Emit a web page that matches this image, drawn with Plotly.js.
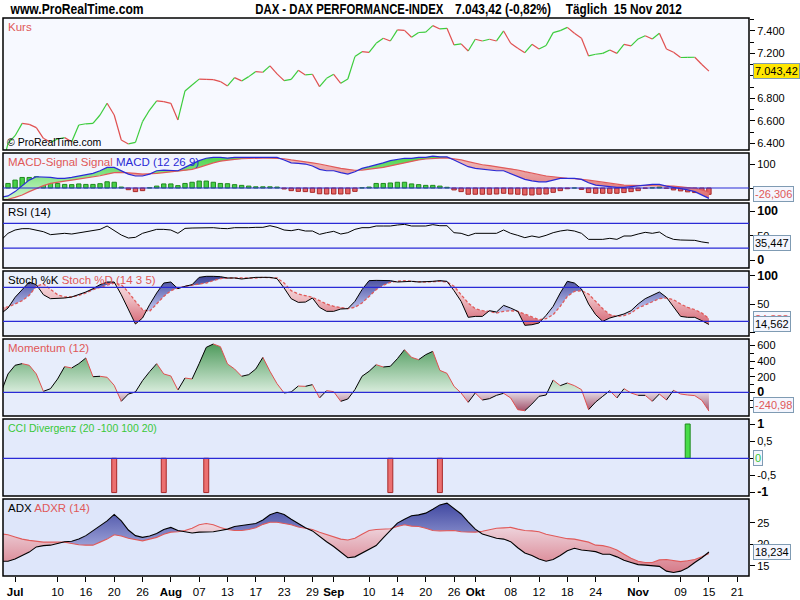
<!DOCTYPE html>
<html><head><meta charset="utf-8">
<script src="https://cdn.plot.ly/plotly-3.0.1.min.js"></script>
<style>html,body{margin:0;padding:0;background:#fff}#chart{width:800px;height:600px}</style>
</head><body><div id="chart"></div>
<script>
// ---------- DATA (first value = 28 Jun 2012, last = 15 Nov 2012) ----------
const kurs = [6150,
6400,6469,6579,6570,6541,6446,6410,6440,6452,6416,
6564,6575,6579,6653,6757,6653,6431,6396,6410,6594,
6697,6778,6772,6757,6609,6867,6920,6972,6970,6968,
6950,6911,6985,6956,6994,7039,7033,7090,7019,6959,
6970,7050,7009,7015,6905,6979,7015,6935,6973,7172,
7216,7210,7290,7335,7311,7409,7405,7344,7386,7390,
7447,7418,7423,7276,7285,7222,7326,7311,7326,7311,
7400,7290,7246,7207,7281,7240,7270,7385,7403,7432,
7379,7335,7178,7193,7201,7231,7201,7281,7267,7329,
7358,7329,7379,7240,7210,7164,7165,7166,7101.6,7043.42];

const macd = [-38.3,
-33,-15,8,33,47,47,44,40,40,44,
50,54,61,72,86,86,72,58,50,50,
58,72,75,75,72,86,100,114,124,128,
128,125,128,128,128,128,128,130,128,117,
105,103,100,92,78,72,72,64,58,68,
82,89,96,105,114,119,124,124,128,128,
133,130,130,117,103,89,82,78,75,72,
72,61,47,36,30,26,26,33,40,40,
40,36,22,12,8,5,3,3,5,8,
12,15,15,8,3,-1,-8,-15,-29,-43.2];

const macdSignal = [-50,
-47,-39,-29,-15,-1,10,19,25,29,33,
37,42,47,51,58,64,65,64,61,58,
58,61,64,67,69,72,78,86,96,105,
112,117,119,122,124,125,125,125,124,122,
117,114,110,105,100,93,86,82,78,74,
75,78,82,86,92,99,105,110,117,121,
124,125,126,122,117,110,103,97,93,89,
85,82,75,68,61,55,50,47,43,40,
39,37,33,29,24,19,15,12,11,11,
11,11,11,10,8,5,3,-1,-8,-16.9];

const macdHist = [10,
19,33,44,44,47,36,24,19,15,14,
17,15,15,18,26,24,4,-7,-15,-11,
1,8,17,17,10,19,24,29,29,24,
19,18,14,11,8,5,5,5,4,-4,
-11,-14,-15,-18,-24,-25,-25,-25,-24,-14,
1,4,19,19,21,24,24,17,14,11,
11,8,3,-8,-15,-26,-26,-26,-26,-25,
-22,-25,-26,-29,-29,-26,-25,-18,-11,-3,
0,-6,-19,-22,-22,-22,-22,-19,-15,-11,
-1,1,4,-1,-8,-12,-16,-19,-22,-26.306];

const rsi = [40.8,
54.9,61.6,64.3,64.3,61.6,58.2,52.2,53.5,54.9,53.5,
56.2,57.5,61.6,62.9,69.7,60.2,51.5,45.4,46.8,54.9,
59.6,62.9,62.9,61.6,54.9,64.9,65.6,66.3,67,66.3,
64.9,64.3,66.3,65.6,66.3,67,67,70.3,67,61.6,
60.2,62.9,59.6,59.6,52.8,56.2,58.9,53.5,56.2,62.9,
66.3,66.3,69.7,69.7,69.7,71.7,73,69.7,69.7,69.7,
72.4,70.3,70.3,56.2,54.9,50.1,54.9,54.9,54.9,54.9,
61.6,54.9,50.8,46.1,49.5,46.8,50.8,56.2,59.6,61.6,
59.6,54.9,42.7,42.7,42.7,44.8,42.7,49.5,49.5,53.5,
56.9,54.9,57.5,48.1,42.7,41.4,41.4,40.7,37.5,35.447];

const stochK = [33.4,
43.5,62.4,75.9,89.4,84.7,67,60,60,61.2,63,
67,71.8,77.6,84.7,89.4,89.4,67,42.4,15.3,25.9,
49.4,70,87.6,89.4,77.6,81.8,84.7,97.6,99.4,99.4,
98.8,96.5,96.5,94.7,96.5,97.6,97.6,97.6,95.3,78.8,
60,53.5,54,61.2,44.7,37.7,37.7,41.8,42.4,55.3,
75.9,91.8,92.3,92.3,91.8,89.4,90.6,90.6,89.4,89.4,
90.6,91.8,90.6,74.1,55.3,27.1,28.8,28.8,38.8,36.5,
48.2,43.5,37.7,13,14.1,17.1,30.6,46.5,70,90.6,
87.6,77,50.6,31.8,20,25.9,30,33,38.8,50.6,
60,65.9,71.8,62.4,46.5,28.8,27.1,27.1,21.2,14.562];

const stochD = [44.3,
45.3,50.6,56.5,65.9,81.8,85.9,75.9,67,63,63,
65.9,70,75.9,80,84.7,87.6,84.7,71.8,55.3,40.6,
37.7,50.6,64,74.1,78.8,81.8,83.5,84.7,87.6,91.8,
95.3,96.5,96.5,95.3,96.5,96.5,97.6,97.6,96.5,87.6,
74.1,68.2,65.9,62.4,56.5,50.6,46.5,44.7,42.4,44.7,
52.4,64,75.9,83.5,88.8,90.6,91.8,90.6,89.4,89.4,
90,90.6,89.4,81.8,67,52.4,42.4,38.8,37.7,34.7,
37.7,38.8,37.7,33,27.1,23,24.7,31.8,46.5,64,
72.9,74.1,68.2,55.3,42.4,31.8,28.8,30,34.7,43.5,
49.4,55.3,60,61.2,58.2,50.6,44.7,40.6,34.7,24.888];

const momentum = [-5,
235,346,367,346,235,12,46,170,329,312,
367,440,200,205,192,89,-116,-22,4,149,
264,367,235,209,29,183,170,367,576,619,
585,363,299,205,226,299,448,269,110,-9,
4,80,76,98,-73,21,8,-116,-86,34,
205,269,354,324,333,431,546,448,418,482,
525,281,243,76,-9,-129,-9,-99,-82,-39,
-13,-73,-223,-236,-150,-52,-35,157,85,119,
85,34,-223,-125,-52,21,-73,46,-9,-39,
-39,-116,-22,-99,25,-22,-35,-43,-103,-240.98];

const cciDates = ['2012-07-20','2012-07-31','2012-08-08','2012-09-13','2012-09-24','2012-11-12'];
const cciValues = [-1,-1,-1,-1,-1,1];
const cciLast = 0;

const adx = [16.1,
16.1,16.6,17.4,18.2,19.4,19.7,19.8,20.2,20.6,20.7,
21.2,22,23.1,24.3,25.4,26.9,25.4,23.3,22,21.6,
21.9,22.5,23.4,23.9,23.2,22.9,22.6,22.8,22.8,22.9,
23.2,23.5,24.1,24.3,24.5,24.8,25.6,26.8,27.4,26.9,
25.8,24.8,23.8,23.1,21.8,20.6,19.5,18.2,16.9,17.1,
18,18.8,19.7,21.5,23.3,24.9,25.8,26.6,26.8,27.2,
28.1,29.1,29.5,28.3,27,25.2,23.5,22.4,21.9,21.4,
21.2,20.6,19.2,18,17.4,16.6,16.1,16.5,17.4,18.5,
19.1,18.7,18.5,18.3,17.7,17.7,17.1,16.3,15.8,15.3,
15.2,15,14.9,13.8,13.5,13.8,14.6,15.8,16.9,18.234];

const adxr = [22.4,
22.2,21.7,21.2,20.9,20.7,20.5,20.5,20.5,20.5,20.2,
19.9,19.8,19.8,20.5,21.2,22.2,21.9,21.4,21.1,20.8,
21.2,21.6,22.3,22.8,22.9,23.2,23.7,24.5,24.8,24.5,
23.9,23.4,23.2,23.2,23.4,23.8,24.6,25.1,25.1,24.8,
24.5,24,23.7,23.4,22.8,22.3,21.8,21.2,21,21.4,
22.3,23.2,23.4,23.5,23.6,24.1,24.5,24.2,24.1,23.7,
23.2,23.1,23.2,23.2,22.9,22.8,22.8,23,23.4,23.7,
23.8,23.9,23.5,23.2,23.1,22.9,22.3,22,21.7,21.3,
21.2,20.9,20.5,19.8,19.7,19.3,18.7,17.7,16.8,16.1,
15.8,15.8,16.4,16.5,16.2,16,16.2,16.5,17.1,17.9];

const tickDates = ['2012-07-02','2012-07-10','2012-07-16','2012-07-20','2012-07-26','2012-08-01','2012-08-07','2012-08-13','2012-08-17','2012-08-23','2012-08-29','2012-09-03','2012-09-10','2012-09-14','2012-09-20','2012-09-26','2012-10-01','2012-10-08','2012-10-12','2012-10-18','2012-10-24','2012-11-01','2012-11-09','2012-11-15','2012-11-21'];
const tickLabels = ['<b>Jul</b>','10','16','20','26','<b>Aug</b>','07','13','17','23','29','<b>Sep</b>','10','14','20','26','<b>Okt</b>','08','12','18','24','<b>Nov</b>','09','15','21'];

// ---------- helpers ----------
function tradingDays(a, b) {
  const out = []; const d = new Date(a + 'T00:00:00Z'); const e = new Date(b + 'T00:00:00Z');
  while (d <= e) { const w = d.getUTCDay(); if (w > 0 && w < 6) out.push(d.toISOString().slice(0, 10)); d.setUTCDate(d.getUTCDate() + 1); }
  return out;
}
const calendar = tradingDays('2012-06-28', '2012-11-23');
const X = kurs.map((_, i) => i);
const ix = d => calendar.indexOf(d);

function de(v, dec) {
  const s = Math.abs(v).toFixed(dec); let [a, f] = s.split('.');
  a = a.replace(/\B(?=(\d{3})+(?!\d))/g, '.');
  return (v < 0 ? '-' : '') + a + (f ? ',' + f : '');
}

function runs(xs, a, b) {
  const out = []; let cur = null;
  for (let i = 0; i < xs.length; i++) {
    const d = a[i] - b[i]; const s = d >= 0 ? 1 : -1;
    if (!cur) { cur = { s, p: [[xs[i], a[i], b[i]]] }; continue; }
    if (s !== cur.s) {
      const dp = a[i - 1] - b[i - 1]; const t = dp / (dp - d);
      const xc = xs[i - 1] + t * (xs[i] - xs[i - 1]); const yc = a[i - 1] + t * (a[i] - a[i - 1]);
      cur.p.push([xc, yc, yc]); out.push(cur);
      cur = { s, p: [[xc, yc, yc], [xs[i], a[i], b[i]]] };
    } else cur.p.push([xs[i], a[i], b[i]]);
  }
  out.push(cur); return out;
}
function fillTraces(xs, a, b, yaxis, pos, neg) {
  return runs(xs, a, b).map(r => {
    const px = r.p.map(q => q[0]), pa = r.p.map(q => q[1]), pb = r.p.map(q => q[2]);
    const st = r.s > 0 ? pos : neg;
    const t = { type: 'scatter', mode: 'lines', x: px.concat(px.slice().reverse()), y: pa.concat(pb.slice().reverse()),
      xaxis: 'x', yaxis, fill: 'toself', line: { width: 0 }, fillcolor: st.color, hoverinfo: 'skip', showlegend: false };
    if (st.grad) t.fillgradient = st.grad;
    return t;
  });
}
function dirLines(xs, ys, yaxis, upColor, downColor, w) {
  const up = { x: [], y: [] }, dn = { x: [], y: [] };
  for (let i = 0; i < ys.length - 1; i++) {
    const t = ys[i + 1] >= ys[i] ? up : dn;
    t.x.push(xs[i], xs[i + 1], null); t.y.push(ys[i], ys[i + 1], null);
  }
  return [
    { type: 'scatter', mode: 'lines', x: up.x, y: up.y, xaxis: 'x', yaxis, line: { color: upColor, width: w }, hoverinfo: 'skip', showlegend: false },
    { type: 'scatter', mode: 'lines', x: dn.x, y: dn.y, xaxis: 'x', yaxis, line: { color: downColor, width: w }, hoverinfo: 'skip', showlegend: false }
  ];
}
function line(ys, yaxis, color, w, dash) {
  return { type: 'scatter', mode: 'lines', x: X, y: ys, xaxis: 'x', yaxis, line: { color, width: w, dash: dash || 'solid' }, hoverinfo: 'skip', showlegend: false };
}

// ---------- layout geometry ----------
const T = 18, B = 24, H = 600, PH = H - T - B;
const panelPx = [[18, 150], [153, 200], [203, 268], [271, 336], [339, 416], [419, 496], [499, 576]];
const dom = panelPx.map(p => [(H - B - p[1]) / PH, (H - B - p[0]) / PH]);
const bgs = ['#f7f9ff', '#f1f4fd', '#eff3fd', '#eaf0fc', '#e7edfb', '#e3eafb', '#dee6fa'];
const ranges = [[6342, 7515], [-50, 146], [-15.2, 116.2], [-5.8, 108.8], [-304, 683], [-1.1, 1.146], [12.68, 30.46]];
const blue = '#2a2ad6', red = '#e05a5a';

// ---------- traces ----------
const traces = [];
traces.push(...fillTraces(X, macd, macdSignal, 'y2',
  { color: '#7ee07e', grad: { type: 'vertical', start: -50, stop: 140, colorscale: [[0, '#d2f6d2'], [1, '#48d448']] } },
  { color: '#e89a9a', grad: { type: 'vertical', start: -50, stop: 140, colorscale: [[0, '#de6c6c'], [1, '#f2c4c4']] } }));
traces.push(...fillTraces(X, stochK, stochD, 'y4',
  { color: '#8890d0', grad: { type: 'vertical', start: 10, stop: 100, colorscale: [[0, '#e6e8f8'], [0.45, '#a8aee0'], [1, '#3c4298']] } },
  { color: '#eab4ba', grad: { type: 'vertical', start: 10, stop: 100, colorscale: [[0, '#d4606e'], [0.55, '#eebcc2'], [1, '#f8eaec']] } }));
const zeros = momentum.map(() => 0);
traces.push(...fillTraces(X, momentum, zeros, 'y5',
  { color: '#9ccaa4', grad: { type: 'vertical', start: 0, stop: 640, colorscale: [[0, '#d8ecdc'], [1, '#4a9858']] } },
  { color: '#c8a0b0', grad: { type: 'vertical', start: -280, stop: 0, colorscale: [[0, '#983c58'], [1, '#e4d8e2']] } }));
traces.push(...fillTraces(X, adx, adxr, 'y7',
  { color: '#8088cc', grad: { type: 'vertical', start: 15, stop: 30, colorscale: [[0, '#c4c8f0'], [1, '#3c449e']] } },
  { color: '#e2b0b8', grad: { type: 'vertical', start: 13, stop: 25, colorscale: [[0, '#d67684'], [1, '#f0dce4']] } }));

traces.push({ type: 'bar', x: X, y: macdHist, xaxis: 'x', yaxis: 'y2', width: 0.62,
  marker: { color: macdHist.map(v => v >= 0 ? '#48d048' : '#e46464'), line: { color: macdHist.map(v => v >= 0 ? '#1f8a1f' : '#a82828'), width: 1 } },
  hoverinfo: 'skip', showlegend: false });
traces.push({ type: 'bar', x: cciDates.map(ix), y: cciValues, xaxis: 'x', yaxis: 'y6', width: 0.7,
  marker: { color: cciValues.map(v => v > 0 ? '#48dc48' : '#ec7070'), line: { color: cciValues.map(v => v > 0 ? '#1f8a1f' : '#a82828'), width: 1 } },
  hoverinfo: 'skip', showlegend: false });

traces.push(...dirLines(X, kurs, 'y', '#3ccc3c', '#e05050', 1.2));
traces.push(line(macdSignal, 'y2', red, 1.2));
traces.push(line(macd, 'y2', blue, 1.2));
traces.push(line(rsi, 'y3', '#000', 1));
traces.push(line(stochD, 'y4', red, 1.3, '3px,2px'));
traces.push(line(stochK, 'y4', '#000', 1));
traces.push(...dirLines(X, momentum, 'y5', '#000', '#e05050', 1));
traces.push(line(adxr, 'y7', red, 1.1));
traces.push(line(adx, 'y7', '#000', 1.1));

// ---------- axes ----------
const FAM = 'Liberation Sans, Arial, sans-serif';
const tickFont = { family: FAM, size: 11, color: '#000' };
function yax(k, vals, texts, minor) {
  const a = { domain: dom[k], range: ranges[k], side: 'right', anchor: 'x', showgrid: false, zeroline: false, showline: false,
    tickmode: 'array', tickvals: vals, ticktext: texts, ticks: 'outside', ticklen: 5, tickcolor: '#000', tickwidth: 1,
    tickfont: tickFont, fixedrange: true, automargin: false };
  if (minor) a.minor = { tickmode: 'array', tickvals: minor, ticks: 'outside', ticklen: 4, tickcolor: '#000' };
  return a;
}
const kTicks = [6400, 6600, 6800, 7000, 7200, 7400];
const B12 = s => '<b><span style="font-size:12.5px">' + s + '</span></b>';
const layout = {
  width: 800, height: 600, margin: { l: 3, r: 51, t: T, b: B },
  paper_bgcolor: '#fff', plot_bgcolor: 'rgba(0,0,0,0)', barmode: 'overlay', showlegend: false,
  font: { family: FAM, size: 11, color: '#000' },
  xaxis: { range: [0.294, 105.66], anchor: 'y7', showgrid: false, zeroline: false, showline: false,
    tickmode: 'array', tickvals: tickDates.map(ix), ticktext: tickLabels, ticks: 'outside', ticklen: 5, tickcolor: '#000',
    tickfont: { family: FAM, size: 11.5, color: '#000' }, fixedrange: true },
  yaxis: yax(0, kTicks, kTicks.map(v => v === 7000 ? '' : de(v, 0)), [6500, 6700, 6900, 7100, 7300, 7500]),
  yaxis2: yax(1, [0, 100], ['', '100']),
  yaxis3: yax(2, [0, 50, 100], [B12('0'), '50', B12('100')]),
  yaxis4: yax(3, [0, 50, 100], ['', '50', B12('100')]),
  yaxis5: yax(4, [-200, 0, 200, 400, 600], ['', B12('0'), '200', '400', '600'], [-100, 100, 300, 500]),
  yaxis6: yax(5, [-1, -0.5, 0, 0.5, 1], [B12('-1'), '-0,5', '', '0,5', B12('1')]),
  yaxis7: yax(6, [15, 20, 25], ['15', '20', '25']),
  shapes: [], annotations: []
};

dom.forEach((d, k) => {
  layout.shapes.push({ type: 'rect', xref: 'paper', yref: 'paper', x0: 0, x1: 1, y0: d[0], y1: d[1], fillcolor: bgs[k], line: { width: 0 }, layer: 'below' });
  layout.shapes.push({ type: 'rect', xref: 'paper', yref: 'paper', x0: 0, x1: 1, y0: d[0], y1: d[1], fillcolor: 'rgba(0,0,0,0)', line: { color: '#000', width: 1.5 }, layer: 'above' });
});
[['y2', 0], ['y3', 75], ['y3', 25], ['y4', 80], ['y4', 20], ['y5', 0], ['y6', 0]].forEach(([ya, v]) => {
  layout.shapes.push({ type: 'line', xref: 'paper', x0: 0, x1: 1, yref: ya, y0: v, y1: v, line: { color: blue, width: 1.2 }, layer: 'above' });
});

// panel titles
const titles = [
  '<span style="color:#e05858">Kurs</span>',
  '<span style="color:#e05858">MACD-Signal Signal</span> <span style="color:#2a2ad6">MACD (12 26 9)</span>',
  '<span style="color:#000">RSI (14)</span>',
  '<span style="color:#000">Stoch %K</span> <span style="color:#e05858">Stoch %D (14 3 5)</span>',
  '<span style="color:#e05858">Momentum (12)</span>',
  '<span style="color:#38c838">CCI Divergenz (20 -100 100 20)</span>',
  '<span style="color:#000">ADX</span> <span style="color:#e05858">ADXR (14)</span>'
];
titles.forEach((t, k) => {
  layout.annotations.push({ xref: 'paper', yref: 'paper', x: 0, y: dom[k][1], xanchor: 'left', yanchor: 'top', xshift: 3, yshift: -1,
    text: t, showarrow: false, font: { family: FAM, size: k === 5 ? 10.5 : 11.5 } });
});
layout.annotations.push({ xref: 'paper', yref: 'paper', x: 0, y: dom[0][0], xanchor: 'left', yanchor: 'bottom', xshift: 2, yshift: 0,
  text: '© ProRealTime.com', showarrow: false, font: { family: FAM, size: 10.5, color: '#000' } });

// header
const last = kurs[kurs.length - 1], prev = kurs[kurs.length - 2];
const pct = (last / prev - 1) * 100;
const hdrFont = { family: FAM, size: 14, color: '#000' };
const hdr = [[10, 143, 'www.ProRealTime.com'], [255, 443, 'DAX - DAX PERFORMANCE-INDEX'],
  [455, 551, de(last, 2) + ' (' + de(pct, 2) + '%)'], [566, 682, 'Täglich  15 Nov 2012']];
const hdrWidths = {};
hdr.forEach(([a, b, t]) => {
  hdrWidths[t.replace(/\s+/g, ' ').trim()] = b - a;
  layout.annotations.push({ xref: 'paper', yref: 'paper', x: ((a + b) / 2 - 3) / 746, y: 1, xanchor: 'center', yanchor: 'bottom', yshift: -1,
    text: '<b>' + t + '</b>', showarrow: false, font: hdrFont });
});

// current value boxes
function box(yref, v, text, color, bg, yshift) {
  layout.annotations.push({ xref: 'paper', x: 1, xanchor: 'left', xshift: 4, yref, y: v, yanchor: 'middle', yshift: yshift || 0,
    text, showarrow: false, font: { family: FAM, size: 11, color }, bgcolor: bg, bordercolor: '#7f9bb3', borderwidth: 1, borderpad: 1 });
}
box('y', last, de(last, 2), '#000', '#ffe600');
box('y2', macdHist[macdHist.length - 1], de(macdHist[macdHist.length - 1], 3), '#e05858', '#f4f6fe');
box('y3', rsi[rsi.length - 1], de(rsi[rsi.length - 1], 3), '#000', '#f4f6fe');
box('y4', stochD[stochD.length - 1], de(stochD[stochD.length - 1], 3), '#e05858', '#f4f6fe');
box('y4', stochK[stochK.length - 1], de(stochK[stochK.length - 1], 3), '#000', '#f4f6fe');
box('y5', momentum[momentum.length - 1], de(momentum[momentum.length - 1], 2), '#e05858', '#f4f6fe', 6);
box('y6', cciLast, de(cciLast, 0), '#38c838', '#f4f6fe');
box('y7', adx[adx.length - 1], de(adx[adx.length - 1], 3), '#000', '#f4f6fe');

Plotly.newPlot('chart', traces, layout, { displayModeBar: false, staticPlot: true }).then(() => {
  document.querySelectorAll('text.annotation-text').forEach(t => {
    const w = hdrWidths[t.textContent.replace(/\s+/g, ' ').trim()];
    if (w) { t.setAttribute('textLength', w); t.setAttribute('lengthAdjust', 'spacingAndGlyphs'); }
  });
});
</script></body></html>
